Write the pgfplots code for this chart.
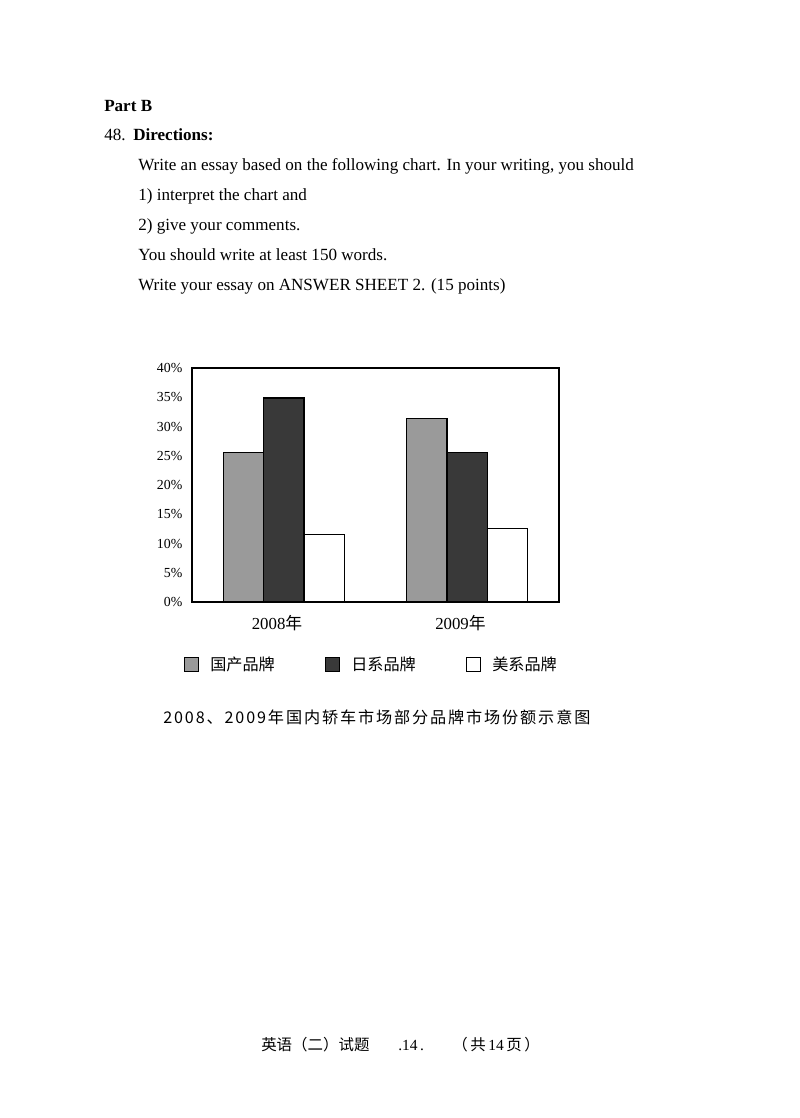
\documentclass[border=0pt]{standalone}
\usepackage{fontspec}
\setmainfont{Liberation Serif}
\newfontfamily\cjk{Noto Sans CJK SC}
\newfontfamily\cjkcap[LetterSpace=11.7]{Noto Sans CJK SC}
\usepackage{pgfplots}
\usepackage{pgfplotstable}
\pgfplotsset{compat=1.18}

\definecolor{domgray}{HTML}{9A9A9A}
\definecolor{japdark}{HTML}{393939}

% market share (%), 0 = 2008, 1 = 2009
\pgfplotstableread{
year dom jap usa
0 25.6 34.9 11.6
1 31.4 25.6 12.6
}\sharetable

% square boxes in the legend
\pgfplotsset{/pgfplots/ybar legend/.style={
  /pgfplots/legend image code/.code={
    \draw[##1,line width=0.9pt] (0pt,-5.2pt) rectangle (10.4pt,5.2pt);
    \path (16.5pt,0pt);}}}

\begin{document}
\begin{tikzpicture}
\begin{scope}[x=0.744pt,y=-0.744pt]
  \fill[white] (0,0) rectangle (800,1118);
  \begin{scope}[every node/.style={anchor=base west,inner sep=0pt,font=\fontsize{12.7}{15}\selectfont}]
    \node at (104,111) {\bfseries Part B};
    \node at (104,140) {48.};
    \node at (133,140) {\bfseries Directions:};
    \node at (138,170) {Write an essay based on the following chart. In your writing, you should};
    \node at (138,200) {1) interpret the chart and};
    \node at (138,230) {2) give your comments.};
    \node at (138,260) {You should write at least 150 words.};
    \node at (138,290) {Write your essay on ANSWER SHEET 2. (15 points)};
  \end{scope}
  \node[anchor=base west,inner sep=0pt,font=\cjkcap\fontsize{12}{14}\selectfont]
    at (163,723) {2008、2009年国内轿车市场部分品牌市场份额示意图};
  \begin{scope}[every node/.style={anchor=base west,inner sep=0pt,font=\fontsize{11.5}{13}\selectfont}]
    \node at (261,1050) {\cjk 英语（二）试题};
    \node at (398,1050) {.14\,.};
    \node at (452,1050) {{\cjk （\,共}\,14\,{\cjk 页\,）}};
  \end{scope}
  \coordinate (O) at (192,602);
\end{scope}

\begin{axis}[
  at={(O)}, anchor=south west,
  scale only axis, width=273pt, height=174pt,
  xmin=-0.5, xmax=1.5, ymin=0, ymax=40,
  ybar, bar width=0.22,
  axis line style={line width=1.2pt},
  major tick length=0pt,
  xtick={0,1},
  xticklabels={2008{\cjk 年},2009{\cjk 年}},
  xticklabel style={font=\fontsize{12.5}{14}\selectfont, anchor=north, inner sep=0pt, yshift=-9.5pt, xshift=-5pt},
  ytick={0,5,...,40},
  yticklabels={0\%,5\%,10\%,15\%,20\%,25\%,30\%,35\%,40\%},
  yticklabel style={font=\fontsize{10.3}{12}\selectfont, anchor=east, inner sep=0pt, xshift=-7pt},
  legend columns=3,
  legend style={draw=none, fill=none, at={(-0.033,-0.209)}, anchor=north west,
    font=\cjk\fontsize{12}{14}\selectfont,
    /tikz/every even column/.append style={column sep=35.5pt}},
]
\addplot[draw=black, line width=0.9pt, fill=domgray, bar shift=-0.22] table[x=year,y=dom] {\sharetable};
\addplot[draw=black, line width=0.9pt, fill=japdark, bar shift=0] table[x=year,y=jap] {\sharetable};
\addplot[draw=black, line width=0.9pt, fill=white, bar shift=0.22] table[x=year,y=usa] {\sharetable};
\legend{国产品牌,日系品牌,美系品牌}
\end{axis}
\end{tikzpicture}
\end{document}
